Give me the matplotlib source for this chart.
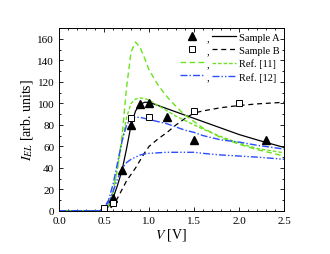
import matplotlib
matplotlib.use("Agg")
import matplotlib.pyplot as plt
from matplotlib.ticker import MultipleLocator

plt.rcParams['font.family'] = ['Liberation Serif', 'DejaVu Serif']
plt.rcParams['mathtext.fontset'] = 'stix'

# Experimental points
vA = [0.5, 0.6, 0.7, 0.8, 0.9, 1.0, 1.2, 1.5, 2.3]
iA = [0.5, 12, 38, 80, 99, 100.5, 87, 66, 66]
vB = [0.5, 0.6, 0.8, 1.0, 1.5, 2.0]
iB = [3, 7, 86, 87, 93, 100]

# Curves
vc = [0.0, 0.45, 0.5, 0.55, 0.6, 0.65, 0.7, 0.75, 0.8, 0.85, 0.9, 0.95, 1.0,
      1.1, 1.2, 1.3, 1.4, 1.5, 1.6, 1.8, 2.0, 2.2, 2.5]
fitA = [0, 0, 0.5, 4, 12, 24, 38, 58, 80, 93, 99, 101, 101,
        98, 95, 92, 89, 86, 83, 77, 71, 66, 59]
fitB = [0, 0, 0, 1, 5, 12, 20, 28, 34, 40, 47, 54, 60,
        67, 73, 80, 86, 91, 93, 96, 98, 99.5, 101]
ref11a = [0, 0, 1, 5, 18, 40, 70, 115, 148, 157, 152, 142, 131,
          117, 106, 97, 89, 83, 77, 68, 62, 57, 51]
ref11b = [0, 0, 1, 5, 18, 40, 65, 87, 100, 104, 105, 104.5, 103,
          98, 93, 88, 84, 80, 76, 69, 63, 58, 54]
ref12a = [0, 0, 3, 10, 25, 45, 65, 80, 86, 87, 87, 86, 85,
          83, 81, 78, 75, 73, 70, 66, 64, 61, 57.5]
ref12b = [0, 0, 3, 8, 18, 30, 39, 45, 48, 50, 52, 53, 53.5,
          54, 54.5, 54.5, 54.5, 54.5, 53.5, 52, 51, 50, 48]

green = '#6be31e'
blue = '#2a4dff'

fig = plt.figure(figsize=(3.3, 2.55), dpi=100)
ax = fig.add_axes([0.179, 0.169, 0.682, 0.717])

lA, = ax.plot(vc, fitA, color='black', lw=0.9)
lB, = ax.plot(vc, fitB, color='black', lw=0.9, dashes=(4, 3))
g1, = ax.plot(vc, ref11a, color=green, lw=1.0, dashes=(4, 2.5))
g2, = ax.plot(vc, ref11b, color=green, lw=1.0, dashes=(2.5, 1.5))
b1, = ax.plot(vc, ref12a, color=blue, lw=1.0, dashes=(5, 1.5, 1, 1.5))
b2, = ax.plot(vc, ref12b, color=blue, lw=1.0, dashes=(5, 1.5, 1, 1.5, 1, 1.5))
mA, = ax.plot(vA, iA, linestyle='none', marker='^', color='black', ms=5.5)
mB, = ax.plot(vB, iB, linestyle='none', marker='s', mfc='white', mec='black',
              mew=0.7, ms=5)

ax.set_xlim(0, 2.5)
ax.set_ylim(0, 170)
ax.xaxis.set_major_locator(MultipleLocator(0.5))
ax.xaxis.set_minor_locator(MultipleLocator(0.1))
ax.yaxis.set_major_locator(MultipleLocator(20))
ax.yaxis.set_minor_locator(MultipleLocator(10))
ax.tick_params(which='both', direction='in', top=True, right=True,
               labelsize=8, width=0.6)
ax.tick_params(which='major', length=3)
ax.tick_params(which='minor', length=1.5)
for s in ax.spines.values():
    s.set_linewidth(0.7)

ax.set_xlabel('$V$ [V]', fontsize=10, labelpad=1)
ax.set_ylabel('$I_{EL}$ [arb. units]', fontsize=10, labelpad=2)

handles = [mA, mB, g1, b1, lA, lB, g2, b2]
labels = [',', ',', ',', ',', 'Sample A', 'Sample B', 'Ref. [11]', 'Ref. [12]']
ax.legend(handles, labels, ncol=2, loc='upper right', frameon=False,
          fontsize=7.5, handlelength=2.3, handletextpad=0.25, columnspacing=0.3,
          labelspacing=0.35, borderaxespad=0.15, borderpad=0.3)

fig.savefig('out.png', dpi=100)
